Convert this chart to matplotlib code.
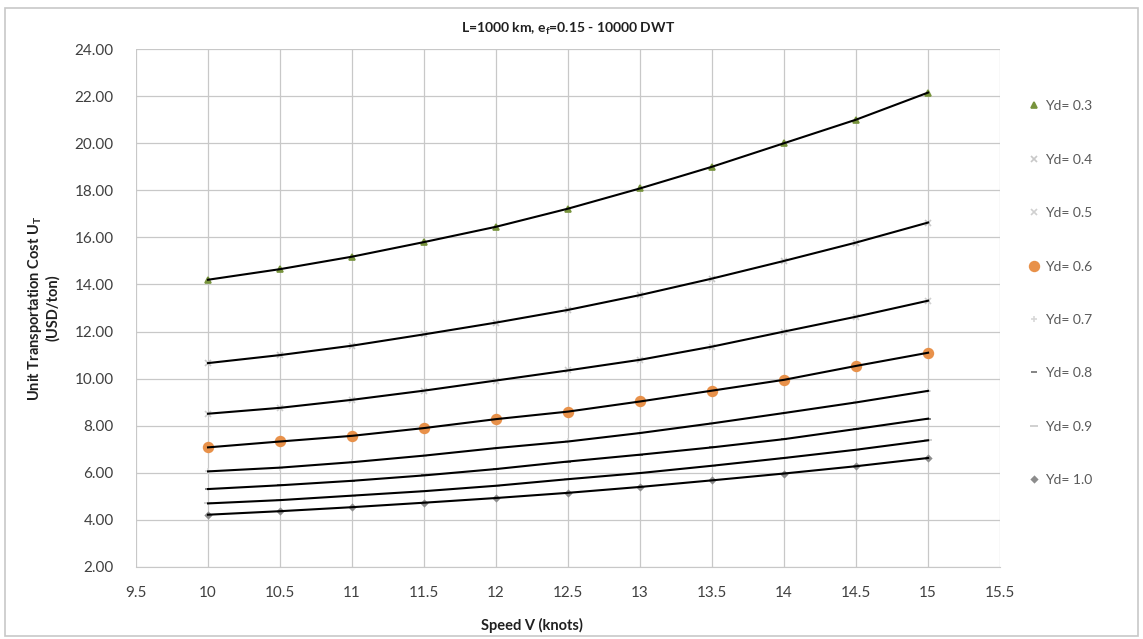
import matplotlib
matplotlib.use("Agg")
import matplotlib.pyplot as plt
from matplotlib.patches import Rectangle

plt.rcParams['font.family'] = ['Lato', 'DejaVu Sans']

speed = [10, 10.5, 11, 11.5, 12, 12.5, 13, 13.5, 14, 14.5, 15]
yd_03 = [14.2, 14.65, 15.18, 15.8, 16.45, 17.22, 18.08, 19.0, 20.0, 21.0, 22.15]
yd_04 = [10.66, 11.0, 11.4, 11.88, 12.38, 12.92, 13.55, 14.25, 15.0, 15.78, 16.63]
yd_05 = [8.51, 8.76, 9.1, 9.49, 9.92, 10.35, 10.8, 11.36, 12.0, 12.63, 13.31]
yd_06 = [7.08, 7.33, 7.57, 7.9, 8.28, 8.6, 9.03, 9.49, 9.95, 10.54, 11.1]
yd_07 = [6.06, 6.22, 6.45, 6.73, 7.05, 7.33, 7.69, 8.1, 8.54, 8.99, 9.48]
yd_08 = [5.31, 5.47, 5.66, 5.89, 6.16, 6.48, 6.77, 7.08, 7.43, 7.86, 8.3]
yd_09 = [4.7, 4.84, 5.03, 5.22, 5.45, 5.73, 5.99, 6.3, 6.63, 6.98, 7.38]
yd_10 = [4.22, 4.37, 4.54, 4.73, 4.93, 5.15, 5.4, 5.68, 5.97, 6.28, 6.63]

labels = ["Yd= 0.3", "Yd= 0.4", "Yd= 0.5", "Yd= 0.6", "Yd= 0.7", "Yd= 0.8", "Yd= 0.9", "Yd= 1.0"]
series = [yd_03, yd_04, yd_05, yd_06, yd_07, yd_08, yd_09, yd_10]
styles = [
    dict(marker='^', color='#77933c', ms=5),
    dict(marker='x', color='#c8c8c8', ms=5),
    dict(marker='x', color='#d0d0d0', ms=4),
    dict(marker='o', color='#e8914a', ms=7),
    dict(marker='+', color='#d8d8d8', ms=5),
    dict(marker='_', color='#707070', ms=5),
    dict(marker='_', color='#c8c8c8', ms=6),
    dict(marker='D', color='#8c8c8c', ms=3),
]

fig = plt.figure(figsize=(11.43, 6.39), dpi=100)
fig.patches.append(Rectangle((0.004, 0.004), 0.992, 0.984, transform=fig.transFigure,
                             fill=False, edgecolor='#c8c8c8', lw=1.2))
ax = fig.add_axes([0.119, 0.1127, 0.756, 0.8106])

for ys, lab, st in zip(series, labels, styles):
    ax.plot(speed, ys, linestyle='none', marker=st['marker'], color=st['color'],
            markersize=st['ms'], markeredgewidth=1.2, label=lab, zorder=3)
    ax.plot(speed, ys, color='black', lw=1.5, zorder=4)

ax.set_xlim(9.5, 15.5)
ax.set_ylim(2, 24)
xt = [9.5, 10, 10.5, 11, 11.5, 12, 12.5, 13, 13.5, 14, 14.5, 15, 15.5]
ax.set_xticks(xt)
ax.set_xticklabels(["9.5", "10", "10.5", "11", "11.5", "12", "12.5", "13", "13.5", "14", "14.5", "15", "15.5"])
yt = list(range(2, 25, 2))
ax.set_yticks(yt)
ax.set_yticklabels([f"{v:.2f}" for v in yt])
ax.tick_params(axis='both', length=0, labelsize=11, labelcolor='#404040')
ax.tick_params(axis='x', pad=14)
ax.tick_params(axis='y', pad=16)
ax.grid(True, color='#c8c8c8', lw=0.9)
ax.set_axisbelow(True)
for s in ['top', 'right', 'left']:
    ax.spines[s].set_visible(False)
ax.spines['bottom'].set_color('#c8c8c8')

ax.set_title(r"L=1000 km, e$_\mathregular{f}$=0.15 - 10000 DWT", fontsize=10,
             fontweight='bold', color='#202020', pad=12)
ax.set_xlabel("Speed V (knots)", fontsize=10.5, fontweight='bold', color='#202020')
ax.xaxis.set_label_coords(0.458, -0.098)
ax.set_ylabel("Unit Transportation Cost U$_\\mathregular{T}$\n(USD/ton)", fontsize=10.5,
              fontweight='bold', color='#202020', linespacing=1.1)
ax.yaxis.set_label_coords(-0.088, 0.5)

leg = ax.legend(loc='upper left', bbox_to_anchor=(1.02, 0.925), frameon=False,
                fontsize=10, labelspacing=2.98, handlelength=0.6, handletextpad=0.5,
                labelcolor='#595959')

fig.savefig("out.png", dpi=100)
